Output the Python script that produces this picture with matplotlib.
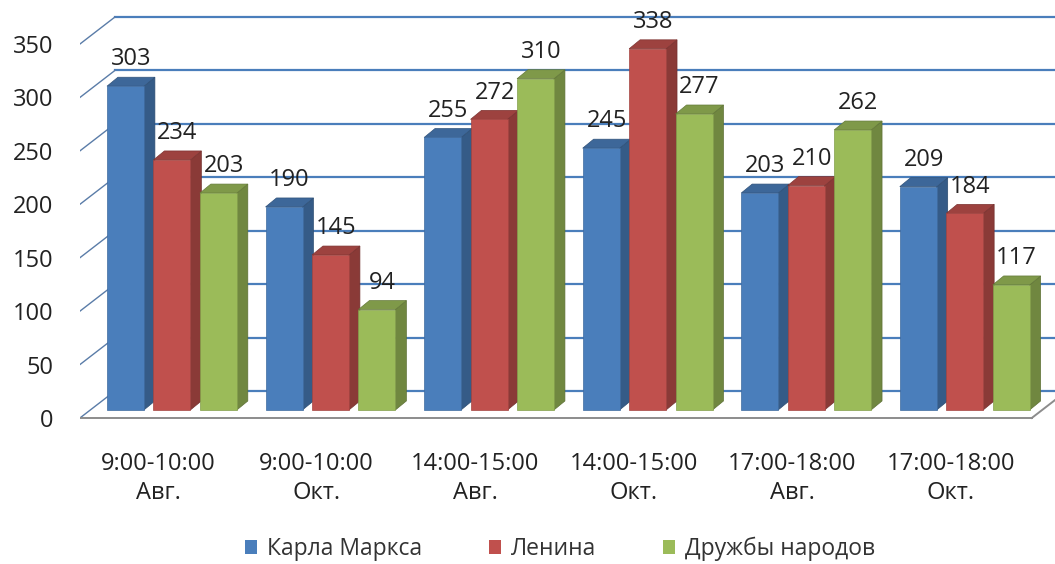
import numpy as np
import matplotlib.pyplot as plt
from matplotlib.patches import Polygon, Patch
from matplotlib.colors import to_rgb

plt.rcParams['font.family'] = ['Open Sans', 'DejaVu Sans']

categories = ['9:00-10:00\nАвг.', '9:00-10:00\nОкт.', '14:00-15:00\nАвг.',
              '14:00-15:00\nОкт.', '17:00-18:00\nАвг.', '17:00-18:00\nОкт.']
series = ['Карла Маркса', 'Ленина', 'Дружбы народов']
karla_marksa = [303, 190, 255, 245, 203, 209]
lenina = [234, 145, 272, 338, 210, 184]
druzhby = [203, 94, 310, 277, 262, 117]
yticks = [0, 50, 100, 150, 200, 250, 300, 350]

colors = ['#4A7EBB', '#C0504D', '#9BBB59']
grid_color = '#4A7EBB'

# pseudo-3D geometry in data units
BAR_W = 0.233
PITCH = 0.293
BACK_X, LIFT = 0.088, 7.5          # columns stand a little behind the floor's front edge
DEPTH_X, DEPTH_Y = 0.069, 8.4      # depth of a single column
WALL_X, WALL_Y = 0.221, 25.3       # offset of the back wall
X_LEFT, X_RIGHT = -0.492, 5.656
FLOOR_RIGHT = 5.511


def shade(c, k):
    r, g, b = to_rgb(c)
    return (r * k, g * k, b * k)


fig = plt.figure(figsize=(10.55, 5.64), dpi=100)
ax = fig.add_axes([0.0758, 0.2362, 0.924, 0.754])
ax.set_xlim(X_LEFT, X_RIGHT)
ax.set_ylim(-12, 386)
for s in ax.spines.values():
    s.set_visible(False)

# back wall gridlines and the side-wall diagonals
for v in yticks:
    ax.plot([X_LEFT + WALL_X, X_RIGHT + 0.2], [v + WALL_Y, v + WALL_Y],
            color=grid_color, lw=1.6, zorder=1)
    ax.plot([X_LEFT, X_LEFT + WALL_X], [v, v + WALL_Y],
            color='#5A7CA8', lw=1.0, zorder=1)

# floor edges
ax.plot([X_LEFT, FLOOR_RIGHT], [0, 0], color='#8C8C8C', lw=1.4, zorder=1)
ax.plot([FLOOR_RIGHT, FLOOR_RIGHT + WALL_X], [0, WALL_Y], color='#8C8C8C', lw=1.4, zorder=1)

x = np.arange(len(categories))
z = 2
for i in range(len(categories)):
    for j, vals in enumerate([karla_marksa, lenina, druzhby]):
        v = vals[i]
        c = x[i] + BACK_X + (j - 1) * PITCH
        l, r = c - BAR_W / 2, c + BAR_W / 2
        b, t = LIFT, LIFT + v
        side = Polygon([(r, b), (r + DEPTH_X, b + DEPTH_Y),
                        (r + DEPTH_X, t + DEPTH_Y), (r, t)],
                       closed=True, facecolor=shade(colors[j], 0.72),
                       edgecolor=shade(colors[j], 0.6), lw=0.5, zorder=z)
        top = Polygon([(l, t), (r, t), (r + DEPTH_X, t + DEPTH_Y),
                       (l + DEPTH_X, t + DEPTH_Y)],
                      closed=True, facecolor=shade(colors[j], 0.82),
                      edgecolor=shade(colors[j], 0.65), lw=0.5, zorder=z)
        ax.add_patch(side)
        ax.add_patch(top)
        ax.bar(c, v, width=BAR_W, bottom=b, color=colors[j],
               edgecolor=shade(colors[j], 0.85), lw=0.5, zorder=z + 0.5)
        ax.text(c + 0.035, t + 25, str(v), ha='center', va='center',
                fontsize=17, color='#222222', zorder=20)
        z += 1

ax.set_yticks(yticks)
ax.set_yticklabels([str(v) for v in yticks])
ax.set_xticks(x)
ax.set_xticklabels(categories, linespacing=1.3)
ax.tick_params(axis='y', length=0, pad=19, labelsize=17, labelcolor='#222222')
ax.tick_params(axis='x', length=0, pad=15, labelsize=17, labelcolor='#222222')

handles = [Patch(facecolor=c, edgecolor='none') for c in colors]
fig.legend(handles, series, loc='center', bbox_to_anchor=(0.531, 0.027),
           ncol=3, frameon=False, fontsize=16.5, handlelength=0.52,
           handleheight=0.52, handletextpad=0.44, columnspacing=2.9,
           labelcolor='#333333')

fig.savefig('out.png', dpi=100)
